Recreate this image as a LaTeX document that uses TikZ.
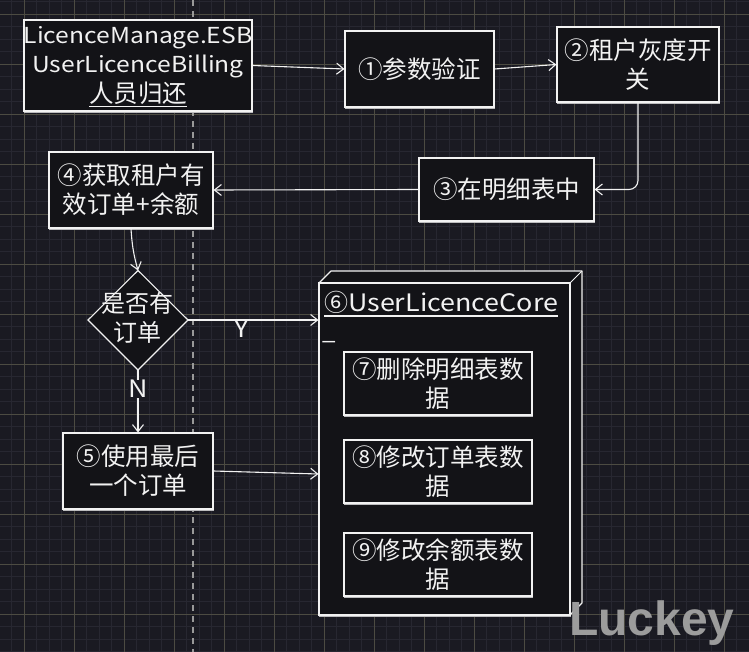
\documentclass[tikz,border=0pt]{standalone}
\usepackage{fontspec}
\setmainfont{Noto Sans CJK SC}
\newfontfamily\lat[FakeStretch=1.12]{Noto Sans CJK SC}
\newfontfamily\wmfont{Liberation Sans}
\usetikzlibrary{arrows.meta}
\definecolor{bg}{HTML}{1A1A22}
\definecolor{minorgrid}{HTML}{272731}
\definecolor{majorgrid}{HTML}{4C4B42}
\definecolor{boxfill}{HTML}{131317}
\definecolor{ink}{HTML}{F2F2F2}
\definecolor{wm}{HTML}{9C9C9C}
\tikzset{
  box/.style={draw=ink, fill=boxfill, line width=1.1pt, align=center, inner sep=2pt,
    text=ink, font=\fontsize{24.5pt}{29pt}\selectfont,
    preaction={draw=ink!75!bg, line width=0.7pt, transform canvas={shift={(0.8pt,-0.9pt)}}}},
  lbl/.style={text=ink, font=\fontsize{24pt}{28pt}\selectfont, inner sep=1pt},
  arr/.style={draw=ink, line width=1.1pt, -{Straight Barb[length=7pt,width=11pt,line width=1.1pt]}},
  minorln/.style={draw=minorgrid, line width=0.8pt},
  majorln/.style={draw=majorgrid, line width=0.9pt}
}
\begin{document}
\begin{tikzpicture}[x=1pt,y=-1pt]
\useasboundingbox (0,0) rectangle (749,652);
\fill[bg] (0,0) rectangle (749,652);
% grid
\foreach \i in {0,...,60} {\draw[minorln] ({11.8+12.5*\i},0) -- ({11.8+12.5*\i},652);}
\foreach \i in {0,...,52} {\draw[minorln] (0,{1.8+12.5*\i}) -- (749,{1.8+12.5*\i});}
\foreach \i in {0,...,14} {\draw[majorln] ({24.3+50*\i},0) -- ({24.3+50*\i},652);}
\foreach \i in {0,...,13} {\draw[majorln] (0,{14.3+50*\i}) -- (749,{14.3+50*\i});}
% dashed vertical guide
\draw[draw=gray!80, line width=1.4pt, dash pattern=on 6pt off 5pt] (193,0) -- (193,652);

% top row
\node[box, minimum width=228pt, minimum height=91pt] (A) at (138,65.5) {};
\node[lbl, align=center, inner sep=0pt, font=\fontsize{22pt}{29.5pt}\selectfont] (At) at ([yshift=-1pt]A.center)
  {{\lat LicenceManage.ESB}\\{\lat UserLicenceBilling}\\{\fontsize{24.5pt}{29.5pt}\selectfont\underline{人员归还}}};
\node[box, minimum width=149pt, minimum height=76pt] (B1) at (419.5,69) {①参数验证};
\node[box, minimum width=162pt, minimum height=75pt] (B2) at (638,64.5) {②租户灰度开\\关};
\node[box, minimum width=175pt, minimum height=63pt] (B3) at (506.5,189.5) {③在明细表中};
\node[box, minimum width=164pt, minimum height=76pt] (B4) at (131,190) {④获取租户有\\效订单+余额};

% diamond
\coordinate (Dt) at (138,270.5);
\coordinate (Dr) at (188,320);
\coordinate (Db) at (138,370);
\coordinate (Dl) at (88,320);
\draw[draw=ink, fill=boxfill, line width=1.1pt] (Dt) -- (Dr) -- (Db) -- (Dl) -- cycle;
\node[lbl, align=center, font=\fontsize{24pt}{29pt}\selectfont] (D) at (137,318) {是否有\\订单};

\node[box, minimum width=150pt, minimum height=76pt] (B5) at (138,471) {⑤使用最后\\一个订单};

% container (3D)
\draw[draw=ink, fill=boxfill, line width=1.1pt, line join=round]
  (319,283) -- (331,271) -- (582,271) -- (582,603) -- (570,615) -- cycle;
\draw[draw=ink, line width=1pt] (570,283) -- (582,271);
\node[box, minimum width=251pt, minimum height=332pt] (C) at (444.5,449) {};
\node[lbl, anchor=base west, inner sep=0pt] (T) at (324,311) {⑥{\lat UserLicenceCore}};
\draw[draw=ink, line width=1.1pt] ([yshift=-5pt]T.base west) -- ([yshift=-5pt]T.base east);
\node[lbl, inner sep=0pt] (dash) at (329,341) {\_};

\node[box, minimum width=188pt, minimum height=63pt] (B7) at (438,383.5) {⑦删除明细表数\\据};
\node[box, minimum width=188pt, minimum height=63pt] (B8) at (438,471.5) {⑧修改订单表数\\据};
\node[box, minimum width=188pt, minimum height=63pt] (B9) at (438,564.5) {⑨修改余额表数\\据};

% connectors
\draw[arr] (A.east) -- (B1.west);
\draw[arr] (B1.east) -- (B2.west);
\draw[arr, rounded corners=9pt] (B2.south) |- (B3.east);
\draw[arr] (B3.west) -- (B4.east);
\draw[arr] (B4.south) to[bend right=6] (Dt);
\draw[arr] (Dr) -- (C.west |- Dr) node[lbl, pos=0.41, below=-2pt] (Y) {\lat Y};
\draw[arr] (Db) -- (B5.north) node[lbl, pos=0.3, fill=bg, inner sep=0pt] (N) {\lat N};
\draw[arr] (B5.east) -- ([yshift=-3pt]C.west |- B5.east);

% watermark
\node[text=wm, font=\wmfont\bfseries\fontsize{48pt}{48pt}\selectfont, anchor=base west, inner sep=0pt] (W) at (569,635) {Luckey};
\end{tikzpicture}
\end{document}
